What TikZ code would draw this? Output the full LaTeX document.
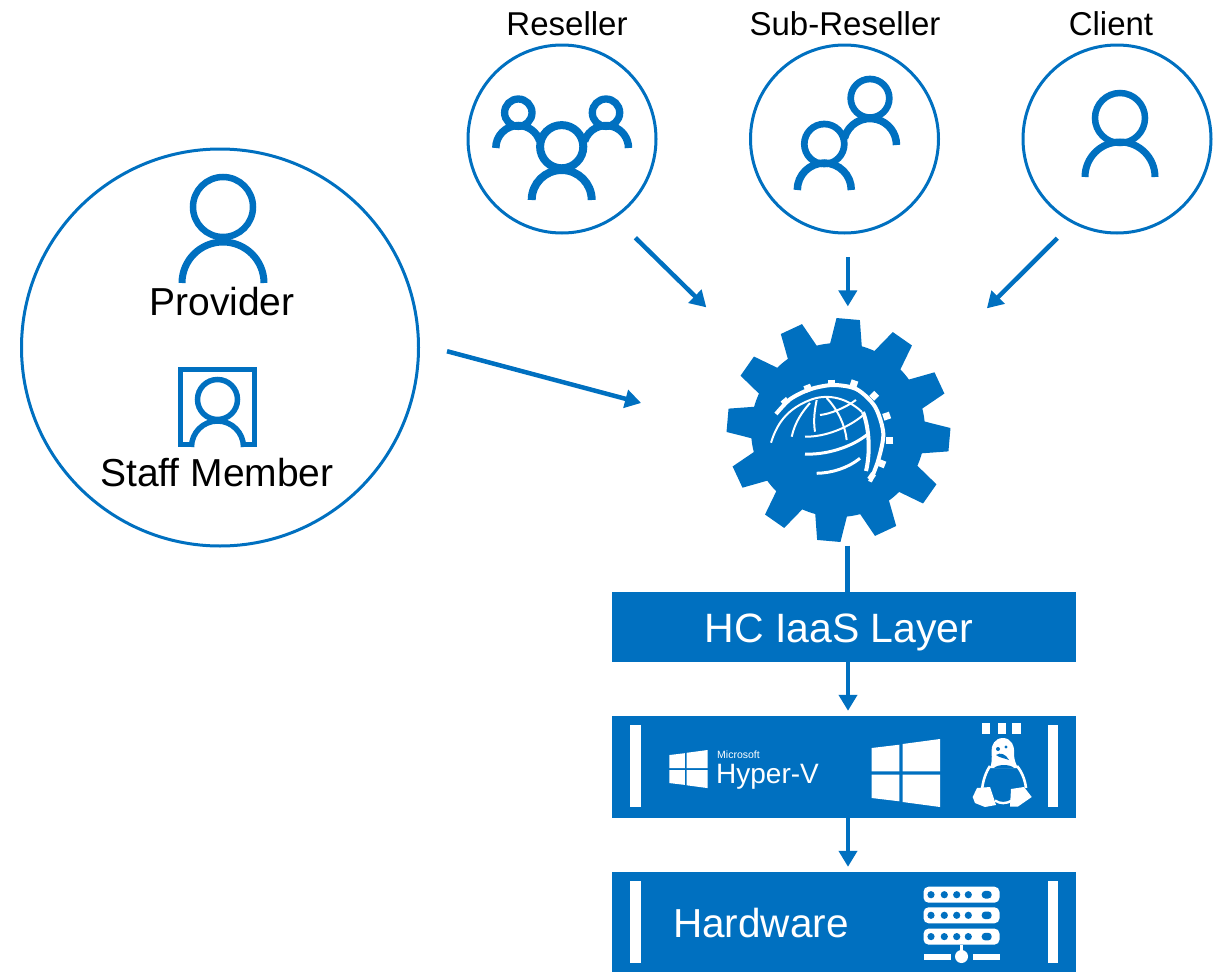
\documentclass[tikz,border=0pt]{standalone}
\usepackage{fontspec}
\setmainfont{Liberation Sans}
\usetikzlibrary{arrows.meta,calc}
\definecolor{hcblue}{HTML}{0070C0}
\tikzset{
    CC1/.style ={circle,minimum width = 188pt, minimum height = 188pt, inner sep=0pt, draw=hcblue, line width=3pt},
    CC2/.style ={circle,minimum width = 397pt, minimum height = 397pt, inner sep=0pt, draw=hcblue, line width=3pt},
    GR/.style ={circle,minimum width = 174pt, minimum height = 174pt, inner sep=0pt, outer sep=23pt, fill=hcblue},
    RA/.style ={rectangle,minimum width = 464pt, inner sep=0pt, fill=hcblue},
    BAR/.style ={rectangle,minimum width = 10.5pt, minimum height = 82pt, inner sep=0pt, fill=white},
    AR/.style ={draw=hcblue, line width=4.5pt, -{Triangle[length=16pt,width=18pt]}},
    LN/.style ={draw=hcblue, line width=4.5pt},
    IC/.style ={draw=hcblue, line cap=butt},
    GL/.style ={draw=white, line width=2pt},
    GT/.style ={draw=white, line width=7pt},
    TX/.style ={anchor=base, inner sep=0pt, font=\fontsize{33}{33}\selectfont},
    TB/.style ={anchor=base, inner sep=0pt, font=\fontsize{39}{39}\selectfont},
    TW/.style ={anchor=base west, inner sep=0pt, text=white}}
% head: x, y, radius, width
\newcommand{\Head}[4]{\draw[IC,line width=#4pt] (#1,#2) circle (#3);}
% shoulders: x, y, radius, width, start angle, end angle
\newcommand{\Arm}[6]{\draw[IC,line width=#4pt] (#1,#2) ++(#5:#3) arc[start angle=#5,end angle=#6,radius=#3];}
% gear tooth at an angle
\newcommand{\Tooth}[1]{\fill[hcblue] ($(838.5,430)+(#1-11:85)$) -- ($(838.5,430)+(#1-6:112)$) -- ($(838.5,430)+(#1+6:112)$) -- ($(838.5,430)+(#1+11:85)$) -- cycle;}
% windows logo: x, y of the top left corner, scale
\newcommand{\WinLogo}[3]{\fill[white,shift={(#1,#2)},scale=#3]
    (0,9) -- (27.7,5.7) -- (27.7,32.3) -- (0,32.3) -- cycle
    (31,5) -- (68.3,0) -- (68.3,32.3) -- (31,32.3) -- cycle
    (0,35.7) -- (27.7,35.7) -- (27.7,62.3) -- (0,59) -- cycle
    (31,35.7) -- (68.3,35.7) -- (68.3,68) -- (31,63) -- cycle;}
% server row: y of the top
\newcommand{\ServerRow}[1]{
    \fill[white,rounded corners=5pt] (923.5,#1) rectangle (999.5,#1+16);
    \fill[hcblue] (931,#1+8) circle (3.6);
    \fill[hcblue] (944.3,#1+8) circle (3.6);
    \fill[hcblue] (956.7,#1+8) circle (3.6);
    \fill[hcblue] (968.3,#1+8) circle (3.6);
    \fill[hcblue,rounded corners=3.5pt] (981.7,#1+4.2) rectangle (991.7,#1+11.8);}

\begin{document}
\begin{tikzpicture}[x=1pt,y=-1pt]
        \useasboundingbox (0,0) rectangle (1219,972);
        \node[CC2] (1) at(220,347.5){};
        \node[CC1] (2) at(562,139){};
        \node[CC1] (3) at(844.5,139){};
        \node[CC1] (4) at(1117,139){};
        \node[GR] (5) at(838,430){};
        \node[RA,minimum height=70pt] (6) at(844,627){};
        \node[RA,minimum height=102pt] (7) at(844,767){};
        \node[RA,minimum height=100pt] (8) at(844,922){};
        % labels
        \node[TX] (a) at(567,35){Reseller};
        \node[TX] (b) at(845,35){Sub-Reseller};
        \node[TX] (c) at(1111,35){Client};
        \node[TB] (d) at(222,315){Provider};
        \node[TB] (e) at(217,486){Staff Member};
        \node[TB,text=white,font=\fontsize{41}{41}\selectfont] (f) at(839,642){HC IaaS Layer};
        \node[TW,font=\fontsize{40.5}{40.5}\selectfont] (g) at(673,937){Hardware};
        \node[TW,font=\fontsize{28}{28}\selectfont] (h) at(716,783){Hyper-V};
        \node[TW,font=\fontsize{10.5}{10.5}\selectfont] (i) at(717,758){Microsoft};
        % arrows
        \draw[AR,shorten <=28pt,shorten >=90pt] (1.1.6) -- (5.178.4);
        \draw[AR,shorten <=28pt,shorten >=70pt] (2.-56) -- (5.138);
        \draw[AR,shorten <=23pt,shorten >=14pt] (3.-88) -- (3.-88 |- 5.85);
        \draw[AR,shorten <=21pt,shorten >=83pt] (4.-118) -- (5.35);
        \draw[LN,shorten <=6pt] (5.-85) -- (5.-85 |- 6.north);
        \draw[AR,shorten >=5pt] ([xshift=4pt]6.south) -- ([xshift=4pt]7.north);
        \draw[AR,shorten >=5pt] ([xshift=4pt]7.south) -- ([xshift=4pt]8.north);
        % provider and staff member
        \Head{223}{207}{30}{6.5}
        \Arm{223}{283}{41}{7}{180}{360}
        \draw[IC,line width=5.5pt] (192,444.5) -- (180.5,444.5) -- (180.5,369.5) -- (254.5,369.5) -- (254.5,444.5) -- (243,444.5);
        \Head{217.5}{399.5}{20}{5.5}
        \Arm{217.5}{447}{26}{5.5}{180}{360}
        % reseller
        \Head{561.7}{146.7}{21.6}{8}
        \Arm{561.7}{200}{30}{8}{180}{360}
        \Head{518.3}{112.7}{13.7}{7.3}
        \Arm{518.3}{148}{22.5}{7.5}{180}{342}
        \Head{606}{112.7}{13.7}{7.3}
        \Arm{606}{148}{22.5}{7.5}{198}{360}
        % sub-reseller
        \Head{870}{98.3}{19.3}{6.7}
        \Arm{870}{145}{26.5}{7.5}{195}{360}
        \Head{824.3}{144}{20}{6.7}
        \Arm{824.3}{190}{27}{7.5}{180}{360}
        % client
        \Head{1120}{118}{25}{6.5}
        \Arm{1120}{177}{35}{7}{180}{360}
        % gear teeth
        \Tooth{5}
        \Tooth{35}
        \Tooth{65}
        \Tooth{95}
        \Tooth{125}
        \Tooth{155}
        \Tooth{185}
        \Tooth{215}
        \Tooth{245}
        \Tooth{275}
        \Tooth{305}
        \Tooth{335}
        % globe in the gear
        \draw[GL,line width=4pt] plot[smooth] coordinates {(776,414) (790,399.3) (810,389.3) (833.3,385) (856.7,389.3) (875,406.7) (883.3,433.3) (878.3,460) (870,481.7)};
        \draw[GT] (783.3,399.3) -- (787.3,404);
        \draw[GT] (806.7,385) -- (809.3,391.7);
        \draw[GT] (831.7,379.5) -- (831.7,386);
        \draw[GT] (855,380.5) -- (852.7,387.3);
        \draw[GT] (876.7,393.3) -- (871.7,398.3);
        \draw[GT] (890,415) -- (883.3,417.3);
        \draw[GT] (893.3,440) -- (886,440);
        \draw[GT] (885,465) -- (878.3,462.3);
        \draw[GT] (874,478.3) -- (869.3,475);
        \draw[GL] (771,442.7) .. controls (778,420) and (790,408) .. (810,400);
        \draw[GL] (791.7,436.7) .. controls (795,422) and (802,412) .. (810,403);
        \draw[GL] (815,431.7) .. controls (813,420) and (815,408) .. (816.7,400);
        \draw[GL] (846.7,440) .. controls (845,425) and (838,410) .. (826.7,398);
        \draw[GL] (805,436.7) .. controls (825,437) and (848,428) .. (863.3,415);
        \draw[GL,line width=3pt] (805,454) .. controls (825,455) and (850,448) .. (866.7,435);
        \draw[GL,line width=3pt] (816.7,473.3) .. controls (832,473) and (848,468) .. (860,458.3);
        \draw[GL] (820,415) .. controls (830,414) and (845,408) .. (856,400);
        \draw[GL] (810,400) .. controls (825,394) and (845,396) .. (862,412);
        \draw[GL,line width=4pt] (863,412) .. controls (870,430) and (870,455) .. (866,471);
        % hyper-v bar
        \node[BAR] (j) at(635.3,766){};
        \node[BAR] (k) at(1053,766){};
        \WinLogo{669.3}{750}{0.56}
        \WinLogo{871.7}{739}{1}
        % penguin
        \fill[white] (981.7,723.3) rectangle (990,734);
        \fill[white] (997.7,723.3) rectangle (1006,734);
        \fill[white] (1012.3,723.3) rectangle (1020.7,734);
        \fill[white] (1003,738) .. controls (1011,738) and (1015,746) .. (1014,754) .. controls (1014,760) and (1016,764) .. (1018,768) -- (1001,768) -- (990,768) .. controls (992,763) and (992,758) .. (991.5,752) .. controls (991,745) and (995,738) .. (1003,738) -- cycle;
        \fill[hcblue] (998,749) circle (2);
        \fill[hcblue] (1006,747) circle (1.6);
        \fill[hcblue] (996,755) .. controls (1000,752) and (1006,754) .. (1009,760) .. controls (1004,758) and (1000,758) .. (996,755) -- cycle;
        \fill[hcblue] (994,768) .. controls (998,764) and (1010,764) .. (1014,768) -- cycle;
        \draw[white,line width=2.6pt] (990,766) .. controls (986,772) and (983,780) .. (982,790);
        \draw[white,line width=2.6pt] (1017,766) .. controls (1022,772) and (1025,780) .. (1026,788);
        \draw[white,line width=2.4pt] (995,800.5) .. controls (1000,804) and (1006,804) .. (1012,800.5);
        \fill[white] (972.7,797) -- (977,788) -- (990,787) -- (996,805) -- (985,807) -- (975,803) -- cycle;
        \fill[white] (1011,789) -- (1024,787) -- (1031.7,797) -- (1018,806.5) -- (1010,806.5) -- cycle;
        % hardware bar
        \node[BAR] (l) at(635.3,922){};
        \node[BAR] (m) at(1053,922){};
        \ServerRow{886.7}
        \ServerRow{907.3}
        \ServerRow{928.6}
        \fill[white] (960,945) rectangle (963,953);
        \fill[white] (961.5,956.5) circle (6.5);
        \fill[white] (924,953.5) rectangle (950.5,959.5);
        \fill[white] (973,953.5) rectangle (999.5,959.5);
    \end{tikzpicture}
\end{document}
